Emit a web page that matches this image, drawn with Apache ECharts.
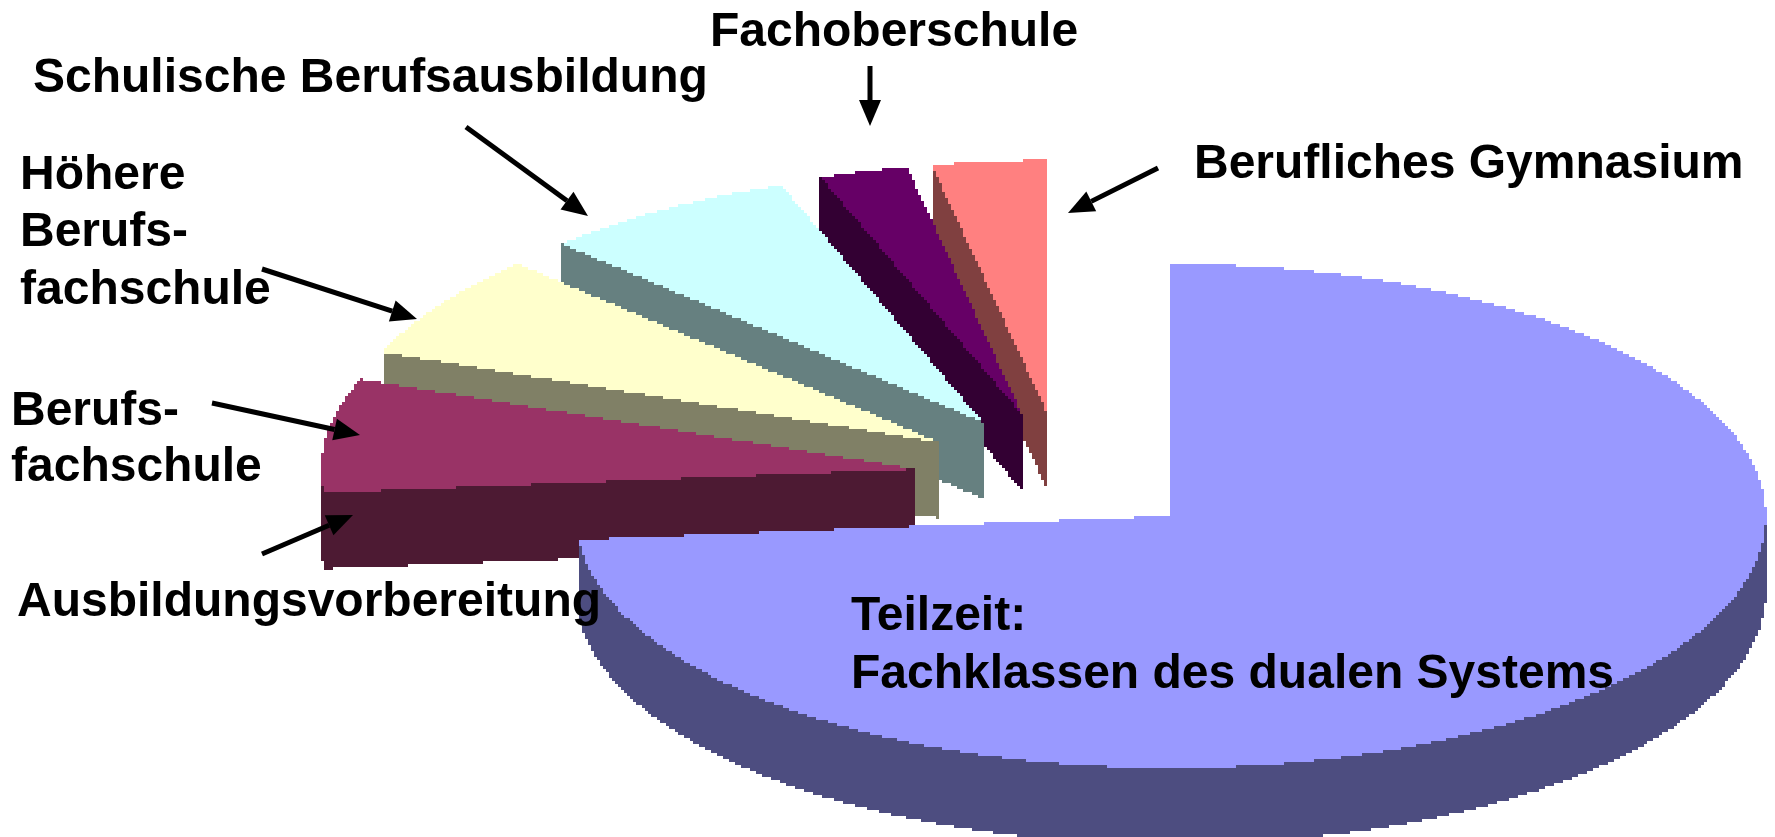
<!DOCTYPE html>
<html>
<head>
<meta charset="utf-8">
<style>
  html, body { margin: 0; padding: 0; background: #fff; }
  #chart { width: 1775px; height: 837px; }
</style>
<script src="https://cdn.jsdelivr.net/npm/echarts@6/dist/echarts.min.js"></script>
</head>
<body>
<div id="chart"></div>
<script>
// slices counter-clockwise from 12 o'clock, so the big one paints last
const categories = ['Berufliches Gymnasium', 'Fachoberschule', 'Schulische Berufsausbildung',
    'Höhere Berufsfachschule', 'Berufsfachschule', 'Teilzeit: Fachklassen des dualen Systems'];
const shares = [3.1, 2.4, 7.0, 6.7, 7.3, 73.5];
const exploded = [true, true, true, true, true, false];
const topColors = ['#ff8080', '#660066', '#ccffff', '#ffffcc', '#993366', '#9999ff'];
const sideColors = ['#804040', '#330033', '#668080', '#808066', '#4d1a33', '#4d4d80'];

// ellipse + extrusion
const CX = 1171, CY = 516, RX = 595, RY = 252, DEPTH = 76;
// exploded group is shifted as a whole and then pushed out radially
const GROUP_DX = -110, GROUP_DY = -38, PUSH_X = 146, PUSH_Y = 66;
const PIXEL = 3;

const labels = [
    {text: 'Fachoberschule', x: 710, y: 33},
    {text: 'Schulische Berufsausbildung', x: 33, y: 79},
    {text: 'Höhere', x: 20, y: 176},
    {text: 'Berufs-', x: 20, y: 233},
    {text: 'fachschule', x: 20, y: 291},
    {text: 'Berufs-', x: 11, y: 412},
    {text: 'fachschule', x: 11, y: 468},
    {text: 'Ausbildungsvorbereitung', x: 17, y: 603},
    {text: 'Berufliches Gymnasium', x: 1194, y: 165},
    {text: 'Teilzeit:', x: 851, y: 617},
    {text: 'Fachklassen des dualen Systems', x: 851, y: 675}
];
const arrows = [
    [870, 66, 870, 126],
    [466, 127, 588, 216],
    [262, 269, 417, 319],
    [212, 403, 360, 435],
    [262, 554, 353, 515],
    [1158, 168, 1068, 213]
];

function toRad(share) {
    return share / 100 * Math.PI * 2;
}

function onRim(c, t) {
    return [c[0] - RX * Math.sin(t), c[1] - RY * Math.cos(t)];
}

function arc(c, t0, t1) {
    let pts = [];
    let n = Math.max(2, Math.ceil((t1 - t0) / 0.01));
    for (let i = 0; i <= n; i++) {
        pts.push(onRim(c, t0 + (t1 - t0) * i / n));
    }
    return pts;
}

// the source is a low-res bitmap, so fill polygons row by row to keep its blocky edges
function scanline(poly, color) {
    let ys = poly.map(p => p[1]);
    let top = Math.floor(Math.min(...ys) / PIXEL) * PIXEL;
    let bottom = Math.ceil(Math.max(...ys) / PIXEL) * PIXEL;
    let rects = [];
    for (let y = top; y < bottom; y += PIXEL) {
        let mid = y + PIXEL / 2;
        let xs = [];
        for (let i = 0; i < poly.length; i++) {
            let a = poly[i], b = poly[(i + 1) % poly.length];
            if ((a[1] <= mid) !== (b[1] <= mid)) {
                xs.push(a[0] + (mid - a[1]) / (b[1] - a[1]) * (b[0] - a[0]));
            }
        }
        xs.sort((p, q) => p - q);
        for (let i = 0; i + 1 < xs.length; i += 2) {
            let x0 = Math.round(xs[i] / PIXEL) * PIXEL;
            let x1 = Math.round(xs[i + 1] / PIXEL) * PIXEL;
            if (x1 > x0) {
                rects.push({
                    type: 'rect',
                    shape: {x: x0, y: y, width: x1 - x0, height: PIXEL},
                    style: {fill: color}
                });
            }
        }
    }
    return rects;
}

function down(pts) {
    return pts.map(p => [p[0], p[1] + DEPTH]);
}

function renderSlice(params, api) {
    let i = params.dataIndex;
    let before = shares.slice(0, i).reduce((s, v) => s + v, 0);
    let t0 = toRad(before);
    let t1 = t0 + toRad(api.value(0));
    let mid = (t0 + t1) / 2;

    let c = [CX, CY];
    if (exploded[i]) {
        c = [CX + GROUP_DX - PUSH_X * Math.sin(mid), CY + GROUP_DY - PUSH_Y * Math.cos(mid)];
    }

    let children = [];
    // radial face at the far end of the slice
    let rimEnd = onRim(c, t1);
    let face = [c, rimEnd, [rimEnd[0], rimEnd[1] + DEPTH], [c[0], c[1] + DEPTH]];
    children = children.concat(scanline(face, sideColors[i]));
    // outer wall, only on the lower half of the ellipse
    let a0 = Math.max(t0, Math.PI / 2), a1 = Math.min(t1, Math.PI * 1.5);
    if (a1 > a0) {
        let rim = arc(c, a0, a1);
        children = children.concat(scanline(rim.concat(down(rim).reverse()), sideColors[i]));
    }
    // top
    children = children.concat(scanline([c].concat(arc(c, t0, t1)), topColors[i]));
    return {type: 'group', children: children};
}

function arrowGraphic(a) {
    let ang = Math.atan2(a[3] - a[1], a[2] - a[0]);
    let len = 26, half = 11;
    let bx = a[2] - len * Math.cos(ang), by = a[3] - len * Math.sin(ang);
    let nx = -Math.sin(ang) * half, ny = Math.cos(ang) * half;
    return [{
        type: 'line', z: 20,
        shape: {x1: a[0], y1: a[1], x2: bx, y2: by},
        style: {stroke: '#000', lineWidth: 5}
    }, {
        type: 'polygon', z: 20,
        shape: {points: [[a[2], a[3]], [bx + nx, by + ny], [bx - nx, by - ny]]},
        style: {fill: '#000'}
    }];
}

let graphics = labels.map(l => ({
    type: 'text', z: 20, x: l.x, y: l.y,
    style: {
        text: l.text, fill: '#000', verticalAlign: 'middle',
        font: 'bold 48px "Liberation Sans", Arial, sans-serif'
    }
}));
arrows.forEach(a => { graphics = graphics.concat(arrowGraphic(a)); });

let myChart = echarts.init(document.getElementById('chart'), null, {renderer: 'canvas'});
myChart.setOption({
    animation: false,
    backgroundColor: '#fff',
    graphic: graphics,
    series: [{
        type: 'custom',
        coordinateSystem: 'none',
        renderItem: renderSlice,
        data: shares.map((v, i) => ({name: categories[i], value: [v]}))
    }]
});
</script>
</body>
</html>
